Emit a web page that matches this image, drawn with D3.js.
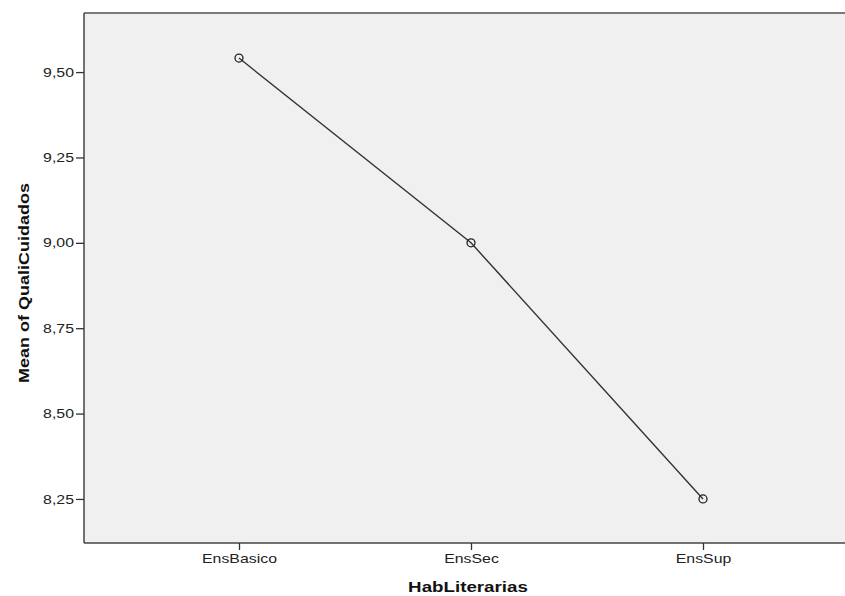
<!DOCTYPE html>
<html><head><meta charset="utf-8">
<script src="https://cdn.jsdelivr.net/npm/d3@7"></script>
<style>body{margin:0;background:#fff;}svg{display:block;font-family:"Liberation Sans",Arial,sans-serif;}</style>
</head><body>
<svg id="c" width="845" height="596"></svg>
<script>
const categories = ["EnsBasico", "EnsSec", "EnsSup"];
const values = [9.541, 9.0, 8.25];
const yTicks = [8.25, 8.5, 8.75, 9.0, 9.25, 9.5];
const xTitle = "HabLiterarias";
const yTitle = "Mean of QualiCuidados";

const svg = d3.select("#c");
const L = 84, T = 13, B = 543, R = 858;
const SX = 1.22; // horizontal stretch of the original export's glyphs
const x = d3.scalePoint().domain(categories).range([239, 703]);
const y = d3.scaleLinear().domain([8.121, 9.673]).range([B, T]);

svg.append("rect").attr("x", L).attr("y", T).attr("width", R - L).attr("height", B - T)
  .attr("fill", "#f0f0f0");
svg.append("line").attr("x1", L).attr("x2", R).attr("y1", T).attr("y2", T).attr("stroke", "#7a7a7a").attr("stroke-width", 2);
svg.append("line").attr("x1", L).attr("x2", R).attr("y1", B).attr("y2", B).attr("stroke", "#444").attr("stroke-width", 1.5);
svg.append("line").attr("x1", L).attr("x2", L).attr("y1", T).attr("y2", B).attr("stroke", "#444").attr("stroke-width", 1.5);

const fmt = d => d.toFixed(2).replace(".", ",");
const ya = svg.append("g").attr("transform", `translate(${L},0)`)
  .call(d3.axisLeft(y).tickValues(yTicks).tickFormat(fmt).tickSize(8).tickPadding(2));
ya.select(".domain").remove();
ya.selectAll(".tick line").attr("stroke", "#333").attr("stroke-width", 1.3);
ya.selectAll(".tick text").attr("fill", "#222").style("font-size", "13px")
  .style("font-family", "Liberation Sans, Arial, sans-serif")
  .attr("x", -10 / SX).attr("transform", `scale(${SX},1)`);

const xa = svg.append("g").attr("transform", `translate(0,${B})`)
  .call(d3.axisBottom(x).tickSize(7).tickPadding(4));
xa.select(".domain").remove();
xa.selectAll(".tick line").attr("stroke", "#333").attr("stroke-width", 1.3);
xa.selectAll(".tick text").attr("fill", "#222").style("font-size", "13px")
  .style("font-family", "Liberation Sans, Arial, sans-serif")
  .attr("transform", `scale(${SX},1)`);

const data = categories.map((c, i) => ({c, v: values[i]}));
svg.append("path").datum(data)
  .attr("d", d3.line().x(d => x(d.c)).y(d => y(d.v)))
  .attr("fill", "none").attr("stroke", "#333").attr("stroke-width", 1.4);
svg.selectAll("circle.pt").data(data).join("circle").attr("class", "pt")
  .attr("cx", d => x(d.c)).attr("cy", d => y(d.v)).attr("r", 4)
  .attr("fill", "none").attr("stroke", "#222").attr("stroke-width", 1.3);

svg.append("text").attr("transform", `translate(468,592) scale(1.25,1)`).attr("text-anchor", "middle")
  .style("font-size", "15px").style("font-weight", "bold")
  .attr("fill", "#111").text(xTitle);
svg.append("text").attr("transform", "translate(28.5,283) rotate(-90) scale(1.2,1)").attr("text-anchor", "middle")
  .style("font-size", "15px").style("font-weight", "bold")
  .attr("fill", "#111").text(yTitle);
</script>
</body></html>
